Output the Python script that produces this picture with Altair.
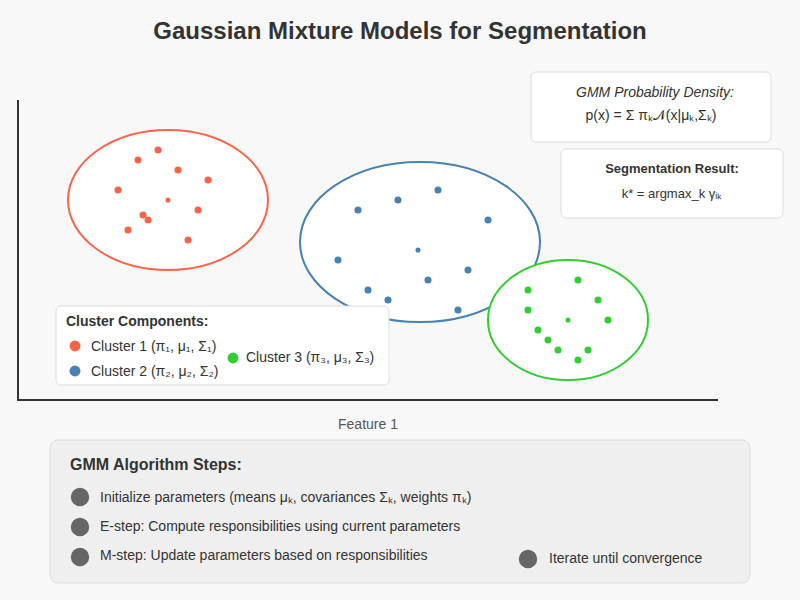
import altair as alt
import pandas as pd

# ---- data ----
c1_x = [158, 138, 178, 208, 118, 198, 143, 148, 128, 188]
c1_y = [150, 160, 170, 180, 190, 210, 215, 220, 230, 240]
c2_x = [438, 398, 358, 488, 338, 468, 428, 368, 388, 458]
c2_y = [190, 200, 210, 220, 260, 270, 280, 290, 300, 310]
c3_x = [578, 528, 598, 528, 608, 538, 548, 558, 588, 578]
c3_y = [280, 290, 300, 310, 320, 330, 340, 350, 350, 360]
means_x = [168, 418, 568]
means_y = [200, 250, 320]
clusters = ["Cluster 1", "Cluster 2", "Cluster 3"]
colors = ["#ff6347", "#4682b4", "#32cd32"]
ell_cx = [168, 420, 568]
ell_cy = [200, 242, 320]
ell_rx = [100, 120, 80]
ell_ry = [70, 80, 60]

legend_labels = ["Cluster 1 (π₁, μ₁, Σ₁)", "Cluster 2 (π₂, μ₂, Σ₂)", "Cluster 3 (π₃, μ₃, Σ₃)"]
steps = [
    "Initialize parameters (means μₖ, covariances Σₖ, weights πₖ)",
    "E-step: Compute responsibilities using current parameters",
    "M-step: Update parameters based on responsibilities",
    "Iterate until convergence",
]

FONT = "Liberation Sans"
X = alt.X("x:Q", scale=alt.Scale(domain=[0, 800]), axis=None)
Y = alt.Y("y:Q", scale=alt.Scale(domain=[0, 600], reverse=True), axis=None)
cscale = alt.Scale(domain=clusters, range=colors)

pts = pd.DataFrame(
    [{"x": x, "y": y, "c": clusters[0]} for x, y in zip(c1_x, c1_y)]
    + [{"x": x, "y": y, "c": clusters[1]} for x, y in zip(c2_x, c2_y)]
    + [{"x": x, "y": y, "c": clusters[2]} for x, y in zip(c3_x, c3_y)]
)
means = pd.DataFrame({"x": means_x, "y": means_y, "c": clusters})

layers = []

# axes lines
layers.append(alt.Chart(pd.DataFrame({"x": [18], "y": [100], "y2": [400]})).mark_rule(
    color="#333", strokeWidth=2).encode(x=X, y=Y, y2="y2:Q"))
layers.append(alt.Chart(pd.DataFrame({"x": [17], "x2": [718], "y": [400]})).mark_rule(
    color="#333", strokeWidth=2).encode(x=X, x2="x2:Q", y=Y))

# ellipses
for i in range(3):
    ratio = ell_ry[i] / ell_rx[i]
    path = f"M-1,0 A1,{ratio:.4f} 0 1,1 1,0 A1,{ratio:.4f} 0 1,1 -1,0 Z"
    layers.append(alt.Chart(pd.DataFrame({"x": [ell_cx[i]], "y": [ell_cy[i]]})).mark_point(
        shape=path, filled=False, fill="white", fillOpacity=1, stroke=colors[i],
        strokeWidth=2, opacity=1, size=(2 * ell_rx[i]) ** 2).encode(x=X, y=Y))

# points
layers.append(alt.Chart(pts).mark_circle(size=50, opacity=1).encode(
    x=X, y=Y, color=alt.Color("c:N", scale=cscale, legend=None)))
layers.append(alt.Chart(means).mark_circle(size=26, opacity=1).encode(
    x=X, y=Y, color=alt.Color("c:N", scale=cscale, legend=None)))

# boxes
boxes = pd.DataFrame({
    "x": [531, 561, 56], "x2": [771, 783, 389],
    "y": [72, 149, 306], "y2": [142, 218, 385]})
layers.append(alt.Chart(boxes).mark_rect(fill="white", stroke="#dddddd", strokeWidth=1,
                                         cornerRadius=5).encode(x=X, x2="x2:Q", y=Y, y2="y2:Q"))
layers.append(alt.Chart(pd.DataFrame({"x": [50], "x2": [750], "y": [440], "y2": [583]})).mark_rect(
    fill="#efefef", stroke="#dddddd", strokeWidth=1, cornerRadius=8).encode(x=X, x2="x2:Q", y=Y, y2="y2:Q"))

# legend dots
leg = pd.DataFrame({"x": [75, 75, 233], "y": [346, 371, 358], "c": clusters})
layers.append(alt.Chart(leg).mark_circle(size=120, opacity=1).encode(
    x=X, y=Y, color=alt.Color("c:N", scale=cscale, legend=None)))

# step dots
sd = pd.DataFrame({"x": [80, 80, 80, 528], "y": [497, 527, 557, 559]})
layers.append(alt.Chart(sd).mark_circle(size=340, opacity=1, color="#666666").encode(x=X, y=Y))


def txt(df, **kw):
    base = dict(font=FONT, baseline="middle", color="#333333")
    base.update(kw)
    return alt.Chart(df).mark_text(**base).encode(x=X, y=Y, text="t:N")


layers.append(txt(pd.DataFrame({"x": [400], "y": [32], "t": ["Gaussian Mixture Models for Segmentation"]}),
                  fontSize=24, fontWeight="bold", align="center"))
layers.append(txt(pd.DataFrame({"x": [655], "y": [93], "t": ["GMM Probability Density:"]}),
                  fontSize=14, fontStyle="italic", align="center"))
layers.append(txt(pd.DataFrame({"x": [651], "y": [116], "t": ["p(x) = Σ πₖ𝒩(x|μₖ,Σₖ)"]}),
                  fontSize=14, align="center"))
layers.append(txt(pd.DataFrame({"x": [672], "y": [169], "t": ["Segmentation Result:"]}),
                  fontSize=13, fontWeight="bold", align="center"))
layers.append(txt(pd.DataFrame({"x": [672], "y": [194], "t": ["k* = argmax_k γᵢₖ"]}),
                  fontSize=13, align="center"))
layers.append(txt(pd.DataFrame({"x": [66], "y": [322], "t": ["Cluster Components:"]}),
                  fontSize=14, fontWeight="bold", align="left"))
layers.append(txt(pd.DataFrame({"x": [91, 91, 246], "y": [347, 372, 358], "t": legend_labels}),
                  fontSize=14, align="left"))
layers.append(txt(pd.DataFrame({"x": [368], "y": [425], "t": ["Feature 1"]}),
                  fontSize=14, align="center", color="#555555"))
layers.append(txt(pd.DataFrame({"x": [70], "y": [465], "t": ["GMM Algorithm Steps:"]}),
                  fontSize=16, fontWeight="bold", align="left"))
layers.append(txt(pd.DataFrame({"x": [100, 100, 100, 549], "y": [498, 527, 556, 559], "t": steps}),
                  fontSize=14, align="left"))

chart = alt.layer(*layers).properties(
    width=800, height=600, background="#f8f8f8", padding=0,
    autosize=alt.AutoSizeParams(type="none"),
).configure_view(stroke=None)

chart.save("out.html", embed_options={"renderer": "svg", "actions": False})
